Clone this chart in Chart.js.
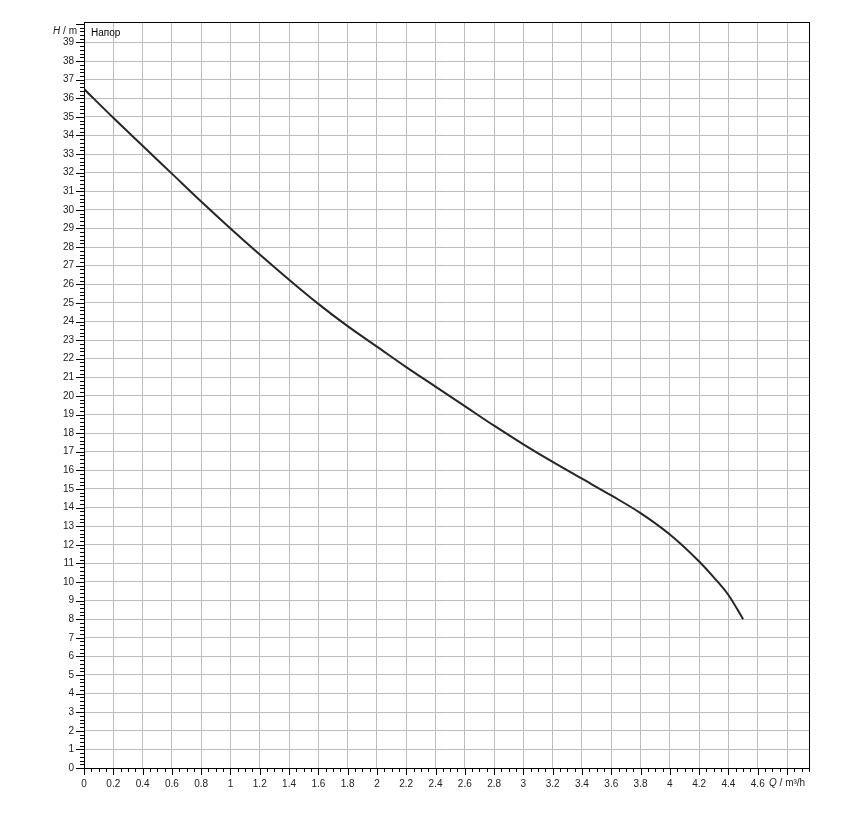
<!DOCTYPE html>
<html>
<head>
<meta charset="utf-8">
<script src="https://cdn.jsdelivr.net/npm/chart.js@4.4.1/dist/chart.umd.min.js"></script>
<style>
  html, body { margin: 0; padding: 0; background: #fff; }
  canvas { display: block; }
</style>
</head>
<body>
<canvas id="pumpChart" width="868" height="820"></canvas>
<script>
// === DADOS ===
const flow = [0, 0.2, 0.4, 0.6, 0.8, 1.0, 1.2, 1.4, 1.6, 1.8, 2.0, 2.2, 2.4, 2.6, 2.8, 3.0, 3.2, 3.4, 3.6, 3.8, 4.0, 4.2, 4.3, 4.4, 4.5];
const head = [36.5, 34.95, 33.45, 31.95, 30.45, 29.0, 27.6, 26.25, 24.95, 23.75, 22.65, 21.55, 20.5, 19.45, 18.4, 17.4, 16.45, 15.55, 14.65, 13.7, 12.55, 11.1, 10.25, 9.3, 8.0];
const seriesName = 'Напор';
const xMax = 4.95, xStep = 0.2, xMinorStep = 0.05;
const yMax = 40.1, yStep = 1, yMinorStep = 0.2;
const xTitle = ['Q', ' / m³/h'];
const yTitle = ['H', ' / m'];

const FONT = '"Liberation Sans", Arial, sans-serif';
const fmt = v => String(Math.round(v * 100) / 100);

// === DECORAÇÃO DOS EIXOS (marcas menores, moldura, títulos) ===
const axisDecor = {
    id: 'axisDecor',
    afterDraw(chart) {
        const { ctx, chartArea: a, scales: { x, y } } = chart;
        ctx.save();
        ctx.strokeStyle = '#000';
        ctx.lineWidth = 1;
        ctx.beginPath();
        const nx = Math.floor(xMax / xMinorStep + 1e-6);
        for (let i = 0; i <= nx; i++) {
            const px = Math.round(x.getPixelForValue(i * xMinorStep)) + 0.5;
            const len = i % 4 === 0 ? 7 : 4;
            ctx.moveTo(px, a.bottom); ctx.lineTo(px, a.bottom + len);
        }
        const ny = Math.floor(yMax / yMinorStep + 1e-6);
        for (let i = 0; i <= ny; i++) {
            const py = Math.round(y.getPixelForValue(i * yMinorStep)) + 0.5;
            const len = i % 5 === 0 ? 8 : 4;
            ctx.moveTo(a.left, py); ctx.lineTo(a.left - len, py);
        }
        ctx.stroke();
        // moldura
        ctx.strokeRect(Math.round(a.left) + 0.5, Math.round(a.top) + 0.5, Math.round(a.right - a.left), Math.round(a.bottom - a.top));

        // títulos
        ctx.fillStyle = '#222';
        ctx.textBaseline = 'middle';
        ctx.font = 'italic 10px ' + FONT;
        const hW = ctx.measureText(yTitle[0]).width;
        ctx.font = '10px ' + FONT;
        const restW = ctx.measureText(yTitle[1]).width;
        let sx = a.left - 7 - hW - restW;
        ctx.font = 'italic 10px ' + FONT;
        ctx.fillText(yTitle[0], sx, a.top + 9);
        ctx.font = '10px ' + FONT;
        ctx.fillText(yTitle[1], sx + hW, a.top + 9);

        const qx = x.getPixelForValue(4.8) - 18;
        ctx.font = 'italic 10px ' + FONT;
        ctx.fillText(xTitle[0], qx, a.bottom + 15);
        const qW = ctx.measureText(xTitle[0]).width;
        ctx.font = '10px ' + FONT;
        ctx.fillText(xTitle[1], qx + qW, a.bottom + 15);

        ctx.fillStyle = '#000';
        ctx.fillText(seriesName, a.left + 7, a.top + 11);
        ctx.restore();
    }
};

const ctx = document.getElementById('pumpChart').getContext('2d');
new Chart(ctx, {
    type: 'line',
    data: {
        datasets: [{
            label: seriesName,
            data: flow.map((q, i) => ({ x: q, y: head[i] })),
            borderColor: '#262626',
            borderWidth: 2,
            pointRadius: 0,
            fill: false,
            cubicInterpolationMode: 'monotone'
        }]
    },
    options: {
        responsive: false,
        animation: false,
        layout: { padding: { top: 22, right: 59, bottom: 0, left: 0 } },
        plugins: { legend: { display: false }, tooltip: { enabled: false } },
        scales: {
            x: {
                type: 'linear', min: 0, max: xMax,
                afterFit: s => { s.height = 52; },
                border: { display: false },
                grid: { color: c => (c.tick && Math.abs(c.tick.value) < 1e-6) ? 'rgba(0,0,0,0)' : '#bdbdbd', drawTicks: false, lineWidth: 1 },
                ticks: {
                    stepSize: xStep, includeBounds: false, autoSkip: false, maxRotation: 0, padding: 10,
                    color: '#222', font: { family: FONT, size: 10 },
                    callback: v => Math.abs(v - 4.8) < 1e-6 ? '' : fmt(v)
                }
            },
            y: {
                type: 'linear', min: 0, max: yMax,
                afterFit: s => { s.width = 84; },
                border: { display: false },
                grid: { color: c => (c.tick && (c.tick.value === 0 || c.tick.value >= 40)) ? 'rgba(0,0,0,0)' : '#bdbdbd', drawTicks: false, lineWidth: 1 },
                ticks: {
                    stepSize: yStep, includeBounds: false, autoSkip: false, padding: 10,
                    color: '#222', font: { family: FONT, size: 10 },
                    callback: v => v >= 40 ? '' : fmt(v)
                }
            }
        }
    },
    plugins: [axisDecor]
});
</script>
</body>
</html>
